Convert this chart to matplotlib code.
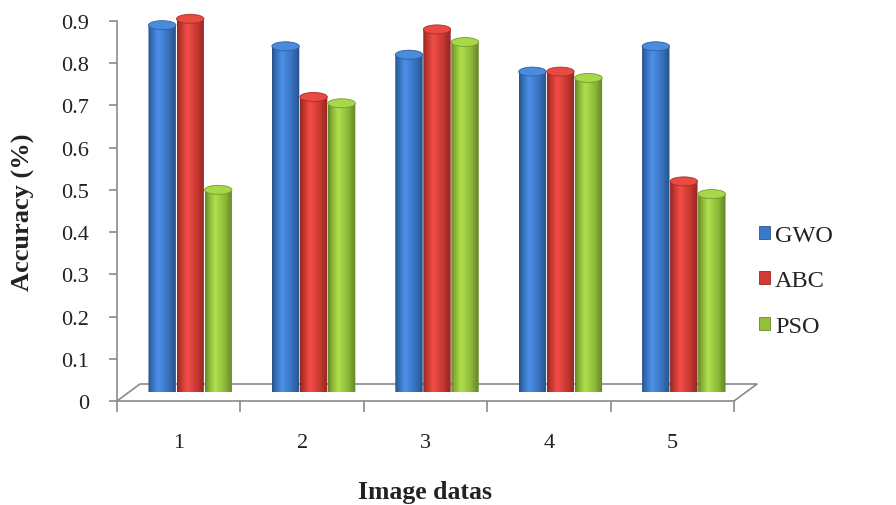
import numpy as np
import matplotlib
matplotlib.use("Agg")
import matplotlib.pyplot as plt
from matplotlib.patches import Ellipse, PathPatch, Patch
from matplotlib.path import Path
from matplotlib.lines import Line2D
from matplotlib.colors import LinearSegmentedColormap, to_rgb

# ---------------- data ----------------
categories = ["1", "2", "3", "4", "5"]
series_names = ["GWO", "ABC", "PSO"]
gwo = [0.87, 0.82, 0.80, 0.76, 0.82]
abc = [0.885, 0.70, 0.86, 0.76, 0.50]
pso = [0.48, 0.685, 0.83, 0.745, 0.47]
y_ticks = [0, 0.1, 0.2, 0.3, 0.4, 0.5, 0.6, 0.7, 0.8, 0.9]
y_tick_labels = ["0", "0.1", "0.2", "0.3", "0.4", "0.5", "0.6", "0.7", "0.8", "0.9"]
x_label = "Image datas"
y_label = "Accuracy (%)"

series_values = [gwo, abc, pso]
base_colors = ["#3a78c9", "#d23a33", "#93c23a"]

plt.rcParams['font.family'] = ['Liberation Serif', 'DejaVu Serif']

W, H = 896, 506
fig = plt.figure(figsize=(W / 100, H / 100), dpi=100)
fig.patch.set_facecolor("white")


def px_rect(l, t, r, b):
    return [l / W, 1 - b / H, (r - l) / W, (b - t) / H]


axis_color = "#8a8a8a"
text_color = "#222222"

# front axis (ticks / labels)
L, T, R, B = 117, 22, 734, 402
front = fig.add_axes(px_rect(L, T, R, B))
front.set_xlim(0.5, len(categories) + 0.5)
front.set_ylim(0, 0.9)
front.set_facecolor("none")
for s in ["top", "right"]:
    front.spines[s].set_visible(False)
for s in ["left", "bottom"]:
    front.spines[s].set_color(axis_color)
    front.spines[s].set_linewidth(1.2)
front.set_yticks(y_ticks)
front.set_yticklabels(y_tick_labels)
front.tick_params(axis="y", direction="out", length=6, width=1.2, color=axis_color,
                  pad=14, labelsize=16, labelcolor=text_color)
xpos = np.arange(1, len(categories) + 1)
front.set_xticks(np.arange(0.5, len(categories) + 1, 1.0))
front.set_xticklabels([])
front.tick_params(axis="x", which="major", direction="out", length=8, width=1.2,
                  color=axis_color)
front.set_xticks(xpos, minor=True)
front.set_xticklabels(categories, minor=True)
front.tick_params(axis="x", which="minor", length=0, pad=23, labelsize=16,
                  labelcolor=text_color)

# 3D floor outline
ddx, ddy = 23, 17
floor_pts = [(L, B), (L + ddx, B - ddy), (R + ddx, B - ddy), (R, B)]
xs = [p[0] / W for p in floor_pts]
ys = [1 - p[1] / H for p in floor_pts]
front.add_line(Line2D(xs, ys, transform=fig.transFigure, color=axis_color,
                      lw=1.2, clip_on=False, zorder=0))

# bars axes (mid-depth)
dx, dy = ddx / 2, ddy / 2
bax = fig.add_axes(px_rect(L + dx, T - dy, R + dx, B - dy))
bax.set_zorder(2)
bax.set_facecolor("none")
bax.axis("off")
bax.set_xlim(0.5, len(categories) + 0.5)
bax.set_ylim(0, 0.9)

px_per_unit_y = (B - T) / 0.9
ry = 4.5 / px_per_unit_y
bar_w = 0.222
step = 0.227


def shade_cmap(c):
    c = np.array(to_rgb(c))
    dark = c * 0.68
    mid = c * 0.9
    light = np.clip(c * 1.08 + 0.06, 0, 1)
    return LinearSegmentedColormap.from_list(
        "s", [(0, dark), (0.12, mid), (0.36, light), (0.72, c * 0.95), (1, dark)])


def cylinder(ax, xc, w, v, color):
    x0, x1 = xc - w / 2, xc + w / 2
    th = np.linspace(np.pi, 2 * np.pi, 40)
    bx = xc + (w / 2) * np.cos(th)
    by = ry * np.sin(th)
    verts = [(x0, v)] + list(zip(bx, by)) + [(x1, v), (x0, v)]
    codes = [Path.MOVETO] + [Path.LINETO] * (len(verts) - 2) + [Path.CLOSEPOLY]
    patch = PathPatch(Path(verts, codes), facecolor="none", edgecolor="none",
                      transform=ax.transData)
    ax.add_patch(patch)
    grad = np.linspace(0, 1, 64)[np.newaxis, :]
    im = ax.imshow(grad, cmap=shade_cmap(color), extent=(x0, x1, -ry, v),
                   aspect="auto", origin="lower", zorder=2, interpolation="bilinear")
    im.set_clip_path(patch)
    c = np.array(to_rgb(color))
    cap = Ellipse((xc, v), w, 2 * ry, facecolor=np.clip(c * 1.05 + 0.05, 0, 1),
                  edgecolor=c * 0.8, lw=0.6, zorder=3)
    ax.add_patch(cap)


for si, (vals, col) in enumerate(zip(series_values, base_colors)):
    for ci, v in enumerate(vals):
        cylinder(bax, xpos[ci] + (si - 1) * step, bar_w, v, col)

bax.set_xlim(0.5, len(categories) + 0.5)
bax.set_ylim(0, 0.9)

# axis labels
fig.text(23 / W, 1 - 212 / H, y_label, rotation=90, ha="center", va="center",
         fontsize=19, fontweight="bold", color=text_color)
fig.text(425 / W, 1 - 493 / H, x_label, ha="center", va="center",
         fontsize=18.5, fontweight="bold", color=text_color)

# legend
handles = [Patch(facecolor=c, edgecolor=np.array(to_rgb(c)) * 0.7, lw=0.6)
           for c in base_colors]
fig.legend(handles, series_names, loc="center left",
           bbox_to_anchor=(759 / W, 1 - 282 / H), frameon=False, fontsize=17.5,
           handlelength=0.45, handleheight=0.45, handletextpad=0.2,
           labelspacing=1.0, borderaxespad=0, borderpad=0, labelcolor=text_color)

fig.savefig("out.png", dpi=100, facecolor="white")
